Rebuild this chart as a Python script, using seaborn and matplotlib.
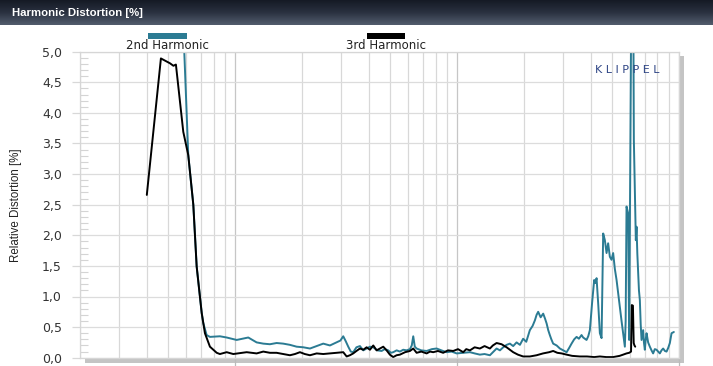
import numpy as np
import pandas as pd
import matplotlib
matplotlib.use("Agg")
import matplotlib.pyplot as plt
import seaborn as sns
from matplotlib.patches import Rectangle
from matplotlib.colors import LinearSegmentedColormap
from matplotlib.ticker import LogLocator, MultipleLocator, FuncFormatter, NullFormatter, FixedLocator

# ---------------- data ----------------
series_names = ["2nd Harmonic", "3rd Harmonic"]
series_colors = ["#2b7b93", "#000000"]

freq_2nd = [40, 50, 55, 59.0, 61.5, 64.8, 67.1, 70.7, 71.8, 74.4, 77.0, 85.4, 91.6, 101.6,
            114.6, 125.0, 133.9, 143.5, 153.8, 164.7, 176.6, 189.3, 203, 217.4, 233.0,
            249.5, 267.4, 286.6, 298, 307.0, 315, 323.4, 332, 340.5, 352, 365.0, 378, 391.2,
            405, 419.2, 437, 457.1, 472, 489.6, 503, 515.6, 534.2, 552.8, 572, 592.5, 613.3,
            625, 634.7, 645, 657.4, 690, 729.2, 770, 809.0, 850, 897.2, 945, 995.4, 1066, 1143,
            1200, 1267, 1330, 1406, 1460, 1507, 1560, 1614, 1672, 1730, 1790, 1854, 1920, 1985,
            2050, 2128, 2190, 2242, 2282, 2320, 2380, 2444, 2490, 2532, 2575, 2618, 2660, 2710,
            2810, 2906, 3010, 3116, 3200, 3280, 3370, 3456, 3540, 3638, 3700, 3832, 3900, 3966,
            4060, 4148, 4200, 4252, 4330, 4400, 4478, 4554, 4634, 4716, 4794, 4880, 4966, 5050,
            5140, 5232, 5320, 5412, 5510, 5602, 5702, 5750, 5802, 5900, 5962, 6112, 6214, 6260,
            6324, 6390, 6436, 6490, 6546, 6600, 6662, 6720, 6780, 6840, 6894, 6950, 7016, 7080,
            7142, 7260, 7390, 7520, 7646, 7780, 7920, 8060, 8198, 8340, 8484, 8640, 8788, 8940,
            9094, 9256, 9480]
dist_2nd = [12.0, 9.0, 7.2, 5.0, 3.31, 2.50, 1.49, 0.73, 0.57, 0.37, 0.34, 0.35, 0.33, 0.29,
            0.33, 0.25, 0.23, 0.22, 0.24, 0.23, 0.21, 0.18, 0.17, 0.15, 0.19,
            0.23, 0.20, 0.25, 0.28, 0.35, 0.27, 0.18, 0.10, 0.09, 0.17, 0.19, 0.12, 0.15,
            0.18, 0.17, 0.12, 0.11, 0.14, 0.12, 0.08, 0.09, 0.12, 0.10, 0.13, 0.12, 0.14,
            0.20, 0.35, 0.18, 0.15, 0.12, 0.11, 0.14, 0.15, 0.12, 0.09, 0.10, 0.07, 0.08, 0.09,
            0.07, 0.05, 0.06, 0.04, 0.10, 0.15, 0.12, 0.17, 0.21, 0.23, 0.19, 0.25, 0.21, 0.31,
            0.26, 0.45, 0.52, 0.61, 0.70, 0.75, 0.66, 0.72, 0.64, 0.56, 0.45, 0.37, 0.30, 0.23,
            0.20, 0.15, 0.12, 0.09, 0.16, 0.23, 0.30, 0.34, 0.31, 0.37, 0.33, 0.29, 0.35, 0.45,
            0.90, 1.27, 1.22, 1.30, 0.85, 0.40, 0.32, 2.03, 1.92, 1.71, 1.87, 1.65, 1.60, 1.71,
            1.45, 1.27, 1.05, 0.83, 0.60, 0.40, 0.18, 0.60, 2.47, 2.36, 0.29, 6.5, 6.5, 3.56,
            2.74, 1.92, 2.14, 1.70, 1.38, 1.10, 0.94, 0.55, 0.29, 0.38, 0.45, 0.25, 0.13, 0.30,
            0.40, 0.25, 0.18, 0.12, 0.07, 0.14, 0.13, 0.10, 0.07, 0.12, 0.15, 0.11, 0.10, 0.16,
            0.24, 0.40, 0.42]

freq_3rd = [40, 46.3, 50.9, 52.7, 54.1, 58.4, 61.5, 64.8, 67.1, 70.7, 73.1, 77.0, 82.6,
            85.4, 91.6, 98.1, 112.7, 125, 133.9, 143.5, 153.8, 164.7, 176.6, 186,
            195.9, 206, 217.4, 233.0, 249.5, 267, 286.6, 307.0, 318.1, 329, 340.5, 352, 365.0,
            378, 391.2, 405, 419.2, 434, 449.3, 465, 481.5, 498, 515.6, 534, 552.8, 583, 613.3,
            634.7, 657.4, 690, 729.2, 755, 780.8, 820, 866.1, 910, 960.8, 1010, 1066, 1100, 1143,
            1200, 1267, 1330, 1406, 1450, 1507, 1587, 1672, 1730, 1790, 1880, 1985, 2128, 2282,
            2440, 2600, 2710, 2830, 2958, 3116, 3300, 3576, 3850, 4150, 4400, 4700, 5050, 5400,
            5602, 5802, 5962, 6080, 6130, 6200, 6250, 6300, 6350]
dist_3rd = [2.66, 4.89, 4.81, 4.77, 4.79, 3.69, 3.31, 2.50, 1.49, 0.73, 0.40, 0.18, 0.08,
            0.06, 0.09, 0.06, 0.09, 0.07, 0.10, 0.08, 0.08, 0.06, 0.04, 0.06,
            0.09, 0.06, 0.04, 0.07, 0.06, 0.07, 0.08, 0.09, 0.02, 0.04, 0.07, 0.11, 0.15,
            0.13, 0.17, 0.13, 0.20, 0.12, 0.15, 0.18, 0.12, 0.05, 0.01, 0.04, 0.05, 0.09, 0.11,
            0.15, 0.08, 0.10, 0.07, 0.10, 0.09, 0.11, 0.08, 0.12, 0.11, 0.14, 0.09, 0.14, 0.12,
            0.17, 0.15, 0.19, 0.15, 0.20, 0.24, 0.22, 0.17, 0.13, 0.09, 0.05, 0.02, 0.02, 0.04,
            0.07, 0.09, 0.11, 0.08, 0.07, 0.05, 0.03, 0.02, 0.02, 0.01, 0.02, 0.01, 0.01, 0.03,
            0.05, 0.07, 0.08, 0.10, 0.86, 0.85, 0.24, 0.20, 0.18]

y_ticks = [0.0, 0.5, 1.0, 1.5, 2.0, 2.5, 3.0, 3.5, 4.0, 4.5, 5.0]
x_limits = [20, 10000]
title_text = "Harmonic Distortion [%]"
y_label = "Relative Distortion [%]"
brand_text = "K L I P P E L"

# ---------------- figure ----------------
sns.set_theme(style="white")
plt.rcParams['font.family'] = ['DejaVu Sans']
ARIAL = ['Liberation Sans', 'DejaVu Sans']

W, H = 713, 366
fig = plt.figure(figsize=(W / 100, H / 100), dpi=100)
fig.patch.set_facecolor("white")

def fx(px):
    return px / W

def fy(py):
    return 1 - py / H

# title bar with gradient
tb = fig.add_axes([0, fy(25), 1, 25 / H])
grad = np.linspace(0, 1, 60).reshape(-1, 1)
cmap = LinearSegmentedColormap.from_list("tb", ["#151a25", "#2a3140", "#525c6d"])
tb.imshow(grad, aspect="auto", cmap=cmap, extent=[0, 1, 0, 1], interpolation="bilinear")
tb.axis("off")
fig.text(fx(12), fy(12.5), title_text, color="white", fontsize=8.2, fontweight="bold",
         family=ARIAL, ha="left", va="center")

# drop shadow of the plot area
fig.patches.append(Rectangle((fx(85), fy(362.5)), fx(684) - fx(85), fy(56) - fy(362.5),
                             transform=fig.transFigure, facecolor="#c4c4c4",
                             edgecolor="none", zorder=-1))

ax = fig.add_axes([fx(80), fy(357.7), fx(679) - fx(80), (357.7 - 51.7) / H])
ax.set_facecolor("white")

df2 = pd.DataFrame({"Frequency": freq_2nd, "Distortion": dist_2nd})
df3 = pd.DataFrame({"Frequency": freq_3rd, "Distortion": dist_3rd})
sns.lineplot(data=df2, x="Frequency", y="Distortion", color=series_colors[0], lw=1.4,
             estimator=None, sort=False, ax=ax, legend=False)
sns.lineplot(data=df3, x="Frequency", y="Distortion", color=series_colors[1], lw=1.4,
             estimator=None, sort=False, ax=ax, legend=False)

ax.set_xscale("log")
ax.set_xlim(*x_limits)
ax.set_ylim(y_ticks[0], y_ticks[-1])
ax.set_xlabel("")
ax.set_ylabel("")

ax.xaxis.set_major_locator(LogLocator(base=10, subs=(1.0,)))
ax.xaxis.set_minor_locator(LogLocator(base=10, subs=np.arange(2, 10)))
ax.xaxis.set_major_formatter(NullFormatter())
ax.xaxis.set_minor_formatter(NullFormatter())
ax.yaxis.set_major_locator(FixedLocator(y_ticks))
ax.yaxis.set_minor_locator(MultipleLocator(0.1))
ax.yaxis.set_major_formatter(FuncFormatter(lambda v, p: f"{v:.1f}".replace(".", ",")))

ax.grid(which="major", axis="y", color="#dcdcdc", lw=0.9)
ax.grid(which="major", axis="x", color="#c6c6c6", lw=0.9)
ax.grid(which="minor", axis="x", color="#d8d8d8", lw=0.9)

ax.tick_params(axis="y", which="major", direction="out", length=6, color="#d8d8d8",
               width=0.9, labelsize=9, labelcolor="#333333", pad=7, left=True)
ax.tick_params(axis="y", which="minor", direction="in", length=6, color="#d4d4d4",
               width=0.8, left=True)
ax.tick_params(axis="x", which="major", direction="out", length=6, color="#bbbbbb",
               width=0.9, bottom=True)
ax.tick_params(axis="x", which="minor", length=0)

for s in ax.spines.values():
    s.set_color("#d6d6d6")
    s.set_linewidth(0.9)

# legend above the plot
legend_x = [(148, 187), (367, 405)]
for (x0, x1), c, name in zip(legend_x, series_colors, series_names):
    fig.patches.append(Rectangle((fx(x0), fy(38.5)), fx(x1) - fx(x0), 5.5 / H,
                                 transform=fig.transFigure, facecolor=c, edgecolor="none"))
    fig.text(fx((x0 + x1) / 2), fy(45.5), name, fontsize=8.5, color="#222222",
             ha="center", va="center")

# y label
fig.text(fx(16), fy(205), y_label, rotation=90, fontsize=8.3, family=ARIAL,
         color="#222222", ha="center", va="center")

# brand
ax.text(0.913, 0.94, brand_text, transform=ax.transAxes, fontsize=8, color="#2e4585",
        ha="center", va="center")

fig.savefig("out.png", dpi=100)
